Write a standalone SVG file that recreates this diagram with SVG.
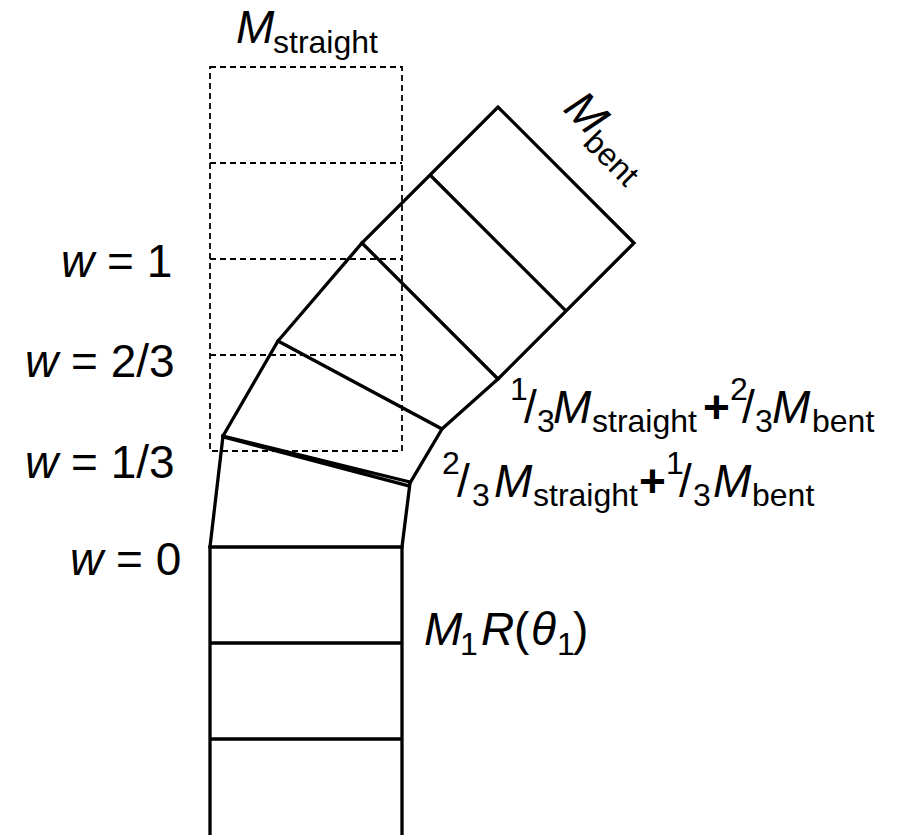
<svg xmlns="http://www.w3.org/2000/svg" width="897" height="835" viewBox="0 0 897 835">
<style>
.s{fill:none;stroke:#000;stroke-width:3.3;stroke-linecap:square;stroke-linejoin:miter}
.d{fill:none;stroke:#000;stroke-width:1.8;stroke-dasharray:6 4}
text{font-family:"Liberation Sans",Arial,sans-serif;fill:#000}
.L{font-size:46px}
.b{font-size:32px}
.i{font-style:italic}
</style>
<rect width="897" height="835" fill="#fff"/>
<g id="straight-ghost">
<path class="d" d="M210,67H402V451H210Z M210,163H402 M210,259H402 M210,355H402"/>
</g>
<g id="base-stack">
<path class="s" d="M210,835V547H402V835 M210,643H402 M210,739H402"/>
</g>
<g id="blend-1">
<path class="s" d="M210,547L223,436 M402,547L410,483"/>
<path class="s" d="M223,436L410,482 M224,437L409,486"/>
</g>
<g id="blend-2">
<path class="s" d="M223,436L278,341L442,429L410,483"/>
</g>
<g id="blend-3">
<path class="s" d="M278,341L362,243L498,379L442,429"/>
</g>
<g id="bent-stack">
<path class="s" d="M362,243L498,107L634,243L498,379 M430,175L566,311"/>
</g>
<g id="labels">
<text class="L"><tspan class="i" x="236" y="43">M</tspan><tspan class="b" x="273" y="53">straight</tspan></text>
<text class="L" transform="translate(562,110) rotate(45)"><tspan class="i" x="0" y="0">M</tspan><tspan class="b" x="38" y="10">bent</tspan></text>
<text class="L" x="61" y="277"><tspan class="i">w</tspan> = 1</text>
<text class="L" x="25" y="377"><tspan class="i">w</tspan> = 2/3</text>
<text class="L" x="25" y="478"><tspan class="i">w</tspan> = 1/3</text>
<text class="L" x="70" y="575"><tspan class="i">w</tspan> = 0</text>
<text class="L"><tspan class="b" x="510" y="400">1</tspan><tspan x="524" y="423">/</tspan><tspan class="b" x="537" y="432">3</tspan><tspan class="i" x="553" y="423">M</tspan><tspan class="b" x="592" y="432">straight</tspan><tspan x="703" y="423" font-weight="bold">+</tspan><tspan class="b" x="730" y="400">2</tspan><tspan x="742" y="423">/</tspan><tspan class="b" x="755" y="432">3</tspan><tspan class="i" x="772" y="423">M</tspan><tspan class="b" x="812" y="432">bent</tspan></text>
<text class="L"><tspan class="b" x="442" y="474">2</tspan><tspan x="457" y="497">/</tspan><tspan class="b" x="472" y="506">3</tspan><tspan class="i" x="494" y="497">M</tspan><tspan class="b" x="533" y="506">straight</tspan><tspan x="639" y="497" font-weight="bold">+</tspan><tspan class="b" x="666" y="474">1</tspan><tspan x="679" y="497">/</tspan><tspan class="b" x="693" y="506">3</tspan><tspan class="i" x="713" y="497">M</tspan><tspan class="b" x="752" y="506">bent</tspan></text>
<text class="L"><tspan class="i" x="424" y="645">M</tspan><tspan class="b" x="460" y="655">1</tspan><tspan class="i" x="481" y="645">R</tspan><tspan x="514" y="645">(</tspan><tspan class="i" x="531" y="645">θ</tspan><tspan class="b" x="557" y="655">1</tspan><tspan x="573" y="645">)</tspan></text>
</g>
</svg>
